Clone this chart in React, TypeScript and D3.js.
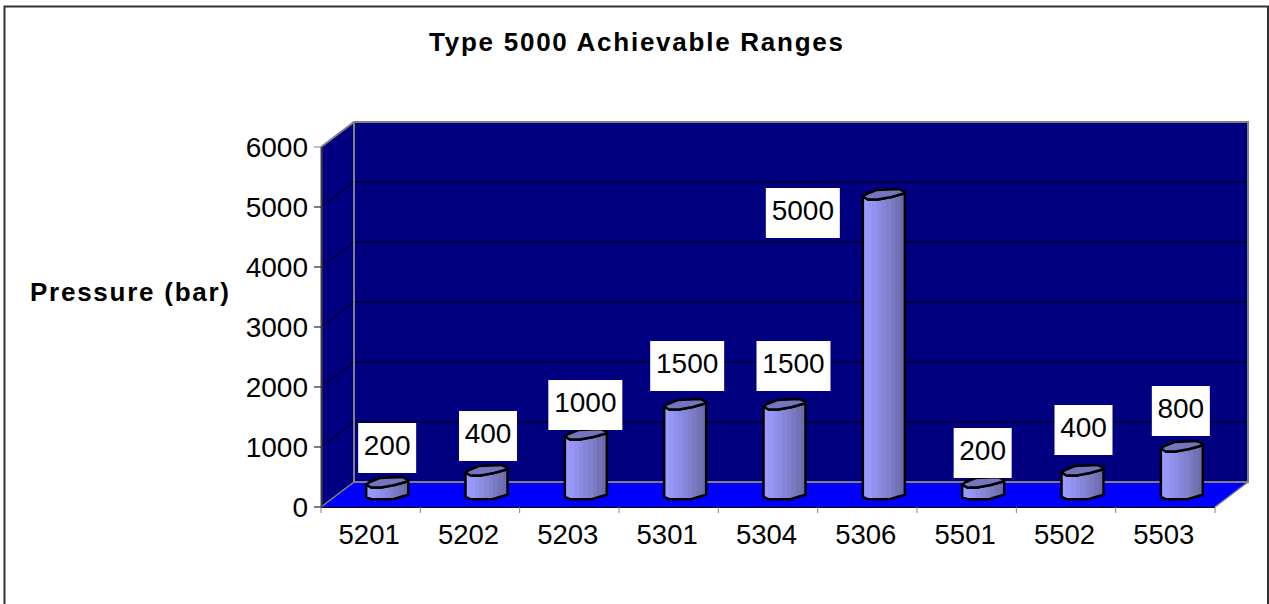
import React from "react";
import * as d3 from "d3";

const categories = ["5201", "5202", "5203", "5301", "5304", "5306", "5501", "5502", "5503"];
const pressures = [200, 400, 1000, 1500, 1500, 5000, 200, 400, 800];
const valueTicks = [0, 1000, 2000, 3000, 4000, 5000, 6000];
const titleText = "Type 5000 Achievable Ranges";
const axisTitle = "Pressure (bar)";

// layout only: where each hand-placed data label sits, relative to its bar
const labelDx = [0, 1.5, -0.5, 2, 9, -81, -0.5, 1, -1];
const labelDy = [-59.5, -59.5, -54.5, -63.5, -63.5, -6.5, -54.5, -65.5, -60.5];

const W = 1269, H = 604;
const FONT = "'Liberation Sans', Arial, sans-serif";
const plot = { left: 321, right: 1215, bottom: 507, top: 147 };
const depth = { x: 33, y: 25 };

const x = d3.scaleBand<string>().domain(categories).range([plot.left, plot.right]);
const y = d3.scaleLinear().domain([0, 6000]).range([plot.bottom, plot.top]);
const line = d3.line<[number, number]>();

const topOutline: [number, number][] = [[-21, 2], [-17.5, -0.5], [-7.5, -4.5], [15, -5.5], [21, -2.5], [20, -1], [7.5, 2.5], [-6, 5], [-16, 5]];
const frontRim: [number, number][] = [[-21, 2], [-16, 5], [-6, 5], [7.5, 2.5], [20, -1], [21, -2.5]];
const baseRim: [number, number][] = [[21, 0.3], [14, 2.3], [6, 4.7], [-16, 4.7], [-21, 2.5]];

const shades = ["#9999ff", "#9797f8", "#9191ee", "#8c8ce4", "#8686d8", "#8080cc", "#7a7ac2", "#7272b4", "#6c6cac"];

export default function App() {
  const bw = x.bandwidth();
  return (
    <svg width={W} height={H} style={{ position: "absolute", left: 0, top: 0, background: "#fff" }} fontFamily={FONT}>
      <defs>
        <linearGradient id="barBody" x1="0" x2="1" y1="0" y2="0">
          {shades.flatMap((c, i) => [
            <stop key={i + "a"} offset={i / shades.length} stopColor={c} />,
            <stop key={i + "b"} offset={(i + 1) / shades.length} stopColor={c} />,
          ])}
        </linearGradient>
      </defs>

      {/* frame */}
      <path d={`M4.5 ${H}V6.5H1268V${H}`} fill="none" stroke="#333" strokeWidth={2} />

      {/* walls and floor */}
      <polygon points={[[plot.left, plot.top], [plot.left + depth.x, plot.top - depth.y], [plot.right + depth.x, plot.top - depth.y], [plot.right + depth.x, plot.bottom - depth.y], [plot.left + depth.x, plot.bottom - depth.y], [plot.left, plot.bottom]].join(" ")} fill="#000080" />
      <polygon points={[[plot.left, plot.bottom], [plot.right, plot.bottom], [plot.right + depth.x, plot.bottom - depth.y], [plot.left + depth.x, plot.bottom - depth.y]].join(" ")} fill="#0000ff" />

      {/* gridlines */}
      {valueTicks.filter(t => t > 0 && t < 6000).map(t => (
        <path key={t} d={`M${plot.left} ${y(t)}L${plot.left + depth.x} ${y(t) - depth.y}H${plot.right + depth.x}`} fill="none" stroke="#000" strokeWidth={1} />
      ))}

      {/* wall edges */}
      <path d={`M${plot.left} ${plot.top}L${plot.left + depth.x} ${plot.top - depth.y}H${plot.right + depth.x}V${plot.bottom - depth.y}H${plot.left + depth.x}V${plot.top - depth.y}`} fill="none" stroke="#808080" strokeWidth={2} />
      <path d={`M${plot.left} ${plot.bottom}L${plot.left + depth.x} ${plot.bottom - depth.y}M${plot.right} ${plot.bottom}L${plot.right + depth.x} ${plot.bottom - depth.y}`} fill="none" stroke="#808080" strokeWidth={1.5} />
      <path d={`M${plot.left + 0.5} ${plot.top}V${plot.bottom}`} stroke="#404040" strokeWidth={2} fill="none" />
      <path d={`M${plot.left} ${plot.bottom + 0.5}H${plot.right}`} stroke="#000" strokeWidth={1} fill="none" />

      {/* y axis */}
      {valueTicks.map(t => (
        <g key={t}>
          <line x1={plot.left - 7} x2={plot.left} y1={y(t)} y2={y(t)} stroke={t === 6000 ? "#808080" : "#000"} strokeWidth={1} />
          <text x={308} y={y(t) + 9.5} textAnchor="end" fontSize={28}>{t}</text>
        </g>
      ))}

      {/* x axis */}
      {categories.map(c => (
        <text key={c} x={(x(c) as number) + bw / 2 - 1.5} y={544} textAnchor="middle" fontSize={27.5}>{c}</text>
      ))}
      {[...categories.map(c => x(c) as number), plot.right].map((tx, i) => (
        <line key={i} x1={tx} x2={tx} y1={plot.bottom} y2={plot.bottom + 6} stroke="#808080" strokeWidth={1} />
      ))}

      {/* cylinders */}
      {categories.map((c, i) => {
        const cx = (x(c) as number) + bw / 2 + depth.x / 2;
        const base = y(0) - depth.y / 2;
        const h = y(0) - y(pressures[i]);
        const tc = base - h;
        const at = (pts: [number, number][], cy: number) => pts.map(([dx, dy]) => [cx + dx, cy + dy] as [number, number]);
        const body = [...at(frontRim, tc), ...at(baseRim, base)];
        return (
          <g key={c} stroke="#000" strokeWidth={2.5} strokeLinejoin="round">
            <path d={(line(body) as string) + "Z"} fill="url(#barBody)" />
            <path d={(line(at(topOutline, tc)) as string) + "Z"} fill="#7575bf" />
          </g>
        );
      })}

      {/* data labels */}
      {categories.map((c, i) => {
        const cx = (x(c) as number) + bw / 2 + depth.x / 2 + labelDx[i];
        const tc = y(pressures[i]) - depth.y / 2;
        const s = String(pressures[i]);
        const w = s.length === 4 ? 74 : 58;
        const top = tc + labelDy[i];
        return (
          <g key={c}>
            <rect x={cx - w / 2} y={top} width={w} height={50} fill="#fff" />
            <text x={cx} y={top + 32} textAnchor="middle" fontSize={28}>{s}</text>
          </g>
        );
      })}

      <text x={429} y={51} fontSize={26} fontWeight="bold" textLength={414} lengthAdjust="spacing">{titleText}</text>
      <text x={30} y={301} fontSize={26} fontWeight="bold" textLength={199} lengthAdjust="spacing">{axisTitle}</text>
    </svg>
  );
}
